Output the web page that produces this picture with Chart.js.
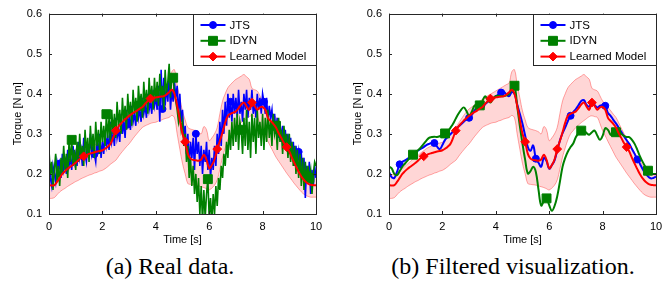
<!DOCTYPE html>
<html>
<head>
<meta charset="utf-8">
<script src="https://cdn.jsdelivr.net/npm/chart.js@4.4.1/dist/chart.umd.min.js"></script>
<style>
  body { margin: 0; width: 671px; height: 290px; background: #fff; position: relative; overflow: hidden; }
  canvas { position: absolute; top: 0; }
  .caption { position: absolute; top: 254px; font-family: "Liberation Serif", "DejaVu Serif", serif; font-size: 24px; line-height: 1; white-space: nowrap; transform: translateX(-50%); color: #000; }
</style>
</head>
<body>
<canvas id="realChart" width="331" height="250" style="left:0px"></canvas>
<canvas id="filtChart" width="331" height="250" style="left:340px"></canvas>
<div class="caption" style="left:170px">(a) Real data.</div>
<div class="caption" style="left:513px">(b) Filtered visualization.</div>
<script>
// time stamps [s] of the raw recording (a)
const timeRaw = [0,0.05,0.1,0.15,0.2,0.25,0.3,0.35,0.4,0.45,0.5,0.55,0.6,0.65,0.7,0.75,0.8,0.85,0.9,0.95,
  1,1.05,1.1,1.15,1.2,1.25,1.3,1.35,1.4,1.45,1.5,1.55,1.6,1.65,1.7,1.75,1.8,1.85,1.9,1.95,
  2,2.05,2.1,2.15,2.2,2.25,2.3,2.35,2.4,2.45,2.5,2.55,2.6,2.65,2.7,2.75,2.8,2.85,2.9,2.95,
  3,3.05,3.1,3.15,3.2,3.25,3.3,3.35,3.4,3.45,3.5,3.55,3.6,3.65,3.7,3.75,3.8,3.85,3.9,3.95,
  4,4.05,4.1,4.15,4.2,4.25,4.3,4.35,4.4,4.45,4.5,4.55,4.6,4.65,4.7,4.75,4.8,4.85,4.9,4.95,
  5,5.05,5.1,5.15,5.2,5.25,5.3,5.35,5.4,5.45,5.5,5.55,5.6,5.65,5.7,5.75,5.8,5.85,5.9,5.95,
  6,6.05,6.1,6.15,6.2,6.25,6.3,6.35,6.4,6.45,6.5,6.55,6.6,6.65,6.7,6.75,6.8,6.85,6.9,6.95,
  7,7.05,7.1,7.15,7.2,7.25,7.3,7.35,7.4,7.45,7.5,7.55,7.6,7.65,7.7,7.75,7.8,7.85,7.9,7.95,
  8,8.05,8.1,8.15,8.2,8.25,8.3,8.35,8.4,8.45,8.5,8.55,8.6,8.65,8.7,8.75,8.8,8.85,8.9,8.95,
  9,9.05,9.1,9.15,9.2,9.25,9.3,9.35,9.4,9.45,9.5,9.55,9.6,9.65,9.7,9.75,9.8,9.85,9.9,9.95,10];

// time stamps [s] of the filtered signals and the model
const time = [0,0.1,0.2,0.3,0.4,0.5,0.6,0.7,0.8,0.9,
  1,1.1,1.2,1.3,1.4,1.5,1.6,1.7,1.8,1.9,
  2,2.1,2.2,2.3,2.4,2.5,2.6,2.7,2.8,2.9,
  3,3.1,3.2,3.3,3.4,3.5,3.6,3.7,3.8,3.9,
  4,4.1,4.2,4.3,4.4,4.5,4.6,4.7,4.8,4.9,
  5,5.1,5.2,5.3,5.4,5.5,5.6,5.7,5.8,5.9,
  6,6.1,6.2,6.3,6.4,6.5,6.6,6.7,6.8,6.9,
  7,7.1,7.2,7.3,7.4,7.5,7.6,7.7,7.8,7.9,
  8,8.1,8.2,8.3,8.4,8.5,8.6,8.7,8.8,8.9,
  9,9.1,9.2,9.3,9.4,9.5,9.6,9.7,9.8,9.9,10];

// raw sensor data (a)
const jtsRaw = [0.24,0.19,0.17,0.22,0.20,0.18,0.23,0.21,0.226,0.19,0.25,0.21,0.23,0.20,0.26,0.22,0.24,0.21,0.27,0.23,
  0.25,0.22,0.28,0.24,0.26,0.22,0.29,0.25,0.23,0.27,0.24,0.30,0.25,0.27,0.249,0.23,0.28,0.25,0.30,0.24,
  0.28,0.25,0.31,0.27,0.29,0.26,0.33,0.28,0.30,0.27,0.34,0.29,0.31,0.28,0.35,0.30,0.33,0.29,0.36,0.323,
  0.34,0.31,0.37,0.33,0.35,0.32,0.38,0.34,0.36,0.33,0.39,0.35,0.37,0.34,0.40,0.36,0.38,0.35,0.41,0.37,
  0.39,0.36,0.42,0.33,0.46,0.362,0.44,0.37,0.42,0.38,0.45,0.36,0.41,0.38,0.43,0.39,0.42,0.35,0.40,0.33,
  0.36,0.29,0.32,0.25,0.30,0.22,0.28,0.24,0.29,0.21,0.30,0.25,0.28,0.22,0.27,0.20,0.26,0.23,0.28,0.21,
  0.26,0.19,0.24,0.21,0.27,0.22,0.30,0.25,0.33,0.27,0.36,0.30,0.38,0.32,0.40,0.34,0.38,0.33,0.40,0.35,
  0.39,0.34,0.41,0.35,0.38,0.33,0.40,0.36,0.41,0.34,0.39,0.36,0.41,0.35,0.38,0.34,0.40,0.36,0.39,0.35,
  0.40,0.38,0.35,0.39,0.33,0.37,0.34,0.36,0.31,0.35,0.30,0.34,0.29,0.33,0.28,0.32,0.27,0.31,0.26,0.30,
  0.25,0.29,0.24,0.28,0.22,0.27,0.23,0.255,0.21,0.25,0.19,0.24,0.14,0.22,0.18,0.23,0.15,0.21,0.17,0.22,0.19];
const idynRaw = [0.26,0.20,0.23,0.16,0.21,0.25,0.18,0.22,0.17,0.24,0.20,0.27,0.21,0.25,0.19,0.28,0.23,0.285,0.22,0.26,
  0.21,0.28,0.23,0.30,0.24,0.27,0.22,0.31,0.25,0.29,0.23,0.32,0.26,0.30,0.24,0.33,0.27,0.31,0.25,0.33,
  0.28,0.32,0.27,0.349,0.29,0.34,0.28,0.36,0.30,0.35,0.29,0.38,0.32,0.36,0.30,0.39,0.33,0.37,0.31,0.40,
  0.34,0.38,0.32,0.41,0.35,0.39,0.33,0.42,0.37,0.40,0.34,0.43,0.37,0.41,0.35,0.44,0.38,0.42,0.36,0.44,
  0.38,0.43,0.37,0.45,0.39,0.42,0.36,0.46,0.40,0.43,0.475,0.39,0.44,0.44,0.40,0.38,0.36,0.33,0.35,0.31,
  0.33,0.27,0.30,0.23,0.27,0.19,0.24,0.17,0.22,0.15,0.20,0.13,0.19,0.10,0.17,0.08,0.16,0.09,0.15,0.187,
  0.09,0.14,0.08,0.15,0.10,0.17,0.12,0.19,0.16,0.22,0.19,0.25,0.22,0.28,0.24,0.31,0.26,0.33,0.27,0.34,
  0.28,0.35,0.26,0.33,0.31,0.25,0.34,0.27,0.36,0.26,0.33,0.24,0.35,0.28,0.34,0.25,0.36,0.29,0.33,0.27,
  0.35,0.26,0.34,0.28,0.36,0.29,0.33,0.27,0.35,0.30,0.32,0.26,0.34,0.28,0.31,0.25,0.32,0.27,0.30,0.24,
  0.30,0.23,0.28,0.22,0.27,0.20,0.26,0.19,0.25,0.17,0.24,0.16,0.23,0.18,0.22,0.19,0.21,0.15,0.20,0.23,0.22];

// filtered data (b)
const jtsFilt = [0.205,0.192,0.190,0.205,0.224,0.230,0.234,0.238,0.242,0.248,
  0.255,0.259,0.263,0.267,0.272,0.275,0.277,0.277,0.268,0.262,
  0.272,0.285,0.292,0.299,0.306,0.312,0.318,0.324,0.330,0.336,
  0.340,0.347,0.358,0.366,0.371,0.364,0.374,0.380,0.386,0.388,
  0.394,0.398,0.403,0.405,0.398,0.394,0.404,0.400,0.374,0.350,
  0.325,0.295,0.267,0.258,0.271,0.238,0.228,0.218,0.240,0.232,
  0.213,0.222,0.234,0.258,0.283,0.302,0.316,0.332,0.345,0.354,
  0.362,0.372,0.382,0.384,0.372,0.368,0.380,0.372,0.366,0.370,
  0.372,0.370,0.352,0.345,0.335,0.326,0.316,0.305,0.294,0.284,
  0.275,0.262,0.250,0.236,0.225,0.212,0.201,0.194,0.189,0.190,0.193];
const idynFilt = [0.218,0.214,0.200,0.197,0.207,0.218,0.226,0.234,0.242,0.248,
  0.254,0.260,0.267,0.275,0.283,0.290,0.292,0.293,0.292,0.294,
  0.298,0.301,0.306,0.315,0.325,0.338,0.350,0.360,0.366,0.357,
  0.345,0.355,0.370,0.372,0.371,0.382,0.394,0.384,0.378,0.388,
  0.394,0.395,0.394,0.394,0.396,0.400,0.412,0.420,0.370,0.320,
  0.275,0.235,0.201,0.207,0.218,0.205,0.160,0.121,0.132,0.139,
  0.122,0.108,0.120,0.144,0.180,0.218,0.240,0.256,0.267,0.276,
  0.292,0.302,0.308,0.308,0.302,0.298,0.304,0.308,0.296,0.285,
  0.295,0.314,0.310,0.298,0.298,0.304,0.306,0.300,0.295,0.292,
  0.292,0.285,0.275,0.260,0.244,0.230,0.218,0.208,0.202,0.200,0.200];

// learned model: mean and confidence band (same in both panels)
const modelMean = [0.172,0.171,0.172,0.180,0.190,0.200,0.207,0.213,0.218,0.223,
  0.228,0.234,0.240,0.244,0.247,0.250,0.252,0.254,0.256,0.257,
  0.259,0.263,0.268,0.275,0.290,0.308,0.318,0.326,0.333,0.339,
  0.345,0.350,0.354,0.358,0.363,0.367,0.375,0.382,0.388,0.390,
  0.391,0.392,0.393,0.394,0.398,0.404,0.410,0.400,0.370,0.335,
  0.300,0.280,0.250,0.238,0.235,0.234,0.233,0.236,0.248,0.235,
  0.214,0.222,0.236,0.262,0.282,0.304,0.328,0.345,0.350,0.353,
  0.356,0.364,0.373,0.378,0.368,0.360,0.378,0.370,0.360,0.366,
  0.367,0.360,0.340,0.332,0.325,0.316,0.302,0.290,0.277,0.267,
  0.256,0.240,0.226,0.212,0.199,0.189,0.181,0.176,0.173,0.172,0.172];
const modelUpper = [0.197,0.198,0.200,0.205,0.209,0.213,0.219,0.225,0.231,0.237,
  0.242,0.247,0.253,0.258,0.263,0.267,0.270,0.273,0.275,0.277,
  0.279,0.284,0.292,0.300,0.308,0.316,0.326,0.336,0.346,0.355,
  0.362,0.367,0.372,0.377,0.382,0.386,0.390,0.395,0.399,0.403,
  0.407,0.411,0.415,0.419,0.423,0.427,0.455,0.460,0.423,0.390,
  0.357,0.335,0.316,0.312,0.310,0.308,0.305,0.300,0.318,0.310,
  0.283,0.290,0.300,0.316,0.350,0.382,0.400,0.415,0.423,0.430,
  0.436,0.440,0.444,0.448,0.442,0.436,0.414,0.410,0.407,0.395,
  0.382,0.374,0.366,0.358,0.349,0.341,0.328,0.314,0.301,0.288,
  0.275,0.264,0.253,0.242,0.232,0.222,0.213,0.206,0.201,0.198,0.197];
const modelLower = [0.139,0.139,0.141,0.148,0.155,0.160,0.164,0.169,0.173,0.177,
  0.181,0.184,0.188,0.191,0.194,0.197,0.199,0.202,0.204,0.207,
  0.209,0.213,0.218,0.224,0.229,0.234,0.243,0.252,0.260,0.268,
  0.275,0.284,0.293,0.301,0.309,0.316,0.320,0.323,0.326,0.328,
  0.329,0.332,0.334,0.337,0.339,0.341,0.346,0.340,0.300,0.262,
  0.226,0.200,0.176,0.174,0.173,0.172,0.170,0.168,0.166,0.163,
  0.160,0.165,0.172,0.185,0.212,0.242,0.265,0.285,0.300,0.308,
  0.316,0.322,0.328,0.333,0.338,0.343,0.345,0.343,0.341,0.326,
  0.308,0.295,0.281,0.268,0.255,0.242,0.232,0.222,0.212,0.202,
  0.193,0.184,0.175,0.167,0.159,0.152,0.147,0.144,0.142,0.142,0.142];

// samples that carry a marker
const jtsRawMarkers = [8, 34, 59, 85, 110, 136, 161, 187];
const idynRawMarkers = [17, 43, 68, 93, 119, 144, 170, 195];
const jtsMarkers = [4, 17, 30, 42, 55, 68, 81, 93];
const idynMarkers = [9, 21, 34, 47, 59, 72, 85, 97];
const modelMarkers = [13, 25, 38, 51, 63, 76, 89];

const xTicks = [0, 2, 4, 6, 8, 10];
const yTicks = [0.1, 0.2, 0.3, 0.4, 0.5, 0.6];

const FONT = '"Liberation Sans", Arial, Helvetica, sans-serif';
const BLUE = '#0000ff', GREEN = '#008000', RED = '#ff0000';

function pts(values, t) {
  return values.map((v, i) => ({ x: t[i], y: v }));
}

function markerRadius(ctx) {
  const ds = ctx.dataset;
  return ds.markers && ds.markers.includes(ctx.dataIndex) ? ds.markerSize : 0;
}

function drawMarker(ctx, style, r, x, y, color) {
  ctx.save();
  ctx.fillStyle = color;
  ctx.strokeStyle = color;
  ctx.lineWidth = 1;
  ctx.beginPath();
  if (style === 'circle') {
    ctx.arc(x, y, r, 0, Math.PI * 2);
  } else if (style === 'rect') {
    const s = r * Math.SQRT1_2;
    ctx.rect(x - s, y - s, 2 * s, 2 * s);
  } else {
    ctx.moveTo(x, y - r); ctx.lineTo(x + r, y); ctx.lineTo(x, y + r); ctx.lineTo(x - r, y);
    ctx.closePath();
  }
  ctx.fill();
  ctx.stroke();
  ctx.restore();
}

// box, inward ticks and matlab-like legend
const framePlugin = {
  id: 'frame',
  afterDraw(chart) {
    const { ctx, chartArea: a, scales } = chart;
    ctx.save();
    ctx.strokeStyle = '#262626';
    ctx.lineWidth = 1;
    ctx.beginPath();
    xTicks.forEach(t => {
      const px = Math.round(scales.x.getPixelForValue(t)) + 0.5;
      ctx.moveTo(px, a.bottom); ctx.lineTo(px, a.bottom - 3);
      ctx.moveTo(px, a.top); ctx.lineTo(px, a.top + 3);
    });
    yTicks.forEach(t => {
      const py = Math.round(scales.y.getPixelForValue(t)) + 0.5;
      ctx.moveTo(a.left, py); ctx.lineTo(a.left + 3, py);
      ctx.moveTo(a.right, py); ctx.lineTo(a.right - 3, py);
    });
    ctx.stroke();
    ctx.strokeRect(Math.round(a.left) + 0.5, Math.round(a.top) + 0.5,
      Math.round(a.right - a.left), Math.round(a.bottom - a.top));

    // legend
    const entries = chart.data.datasets.filter(d => d.label);
    const w = 123, h = 51;
    const x0 = Math.round(a.right - w) + 0.5, y0 = Math.round(a.top) + 0.5;
    ctx.fillStyle = '#fff';
    ctx.fillRect(x0, y0, w, h);
    ctx.strokeStyle = '#262626';
    ctx.strokeRect(x0, y0, w, h);
    ctx.font = '11.5px ' + FONT;
    ctx.textBaseline = 'middle';
    entries.forEach((d, i) => {
      const yy = y0 + 10.5 + i * 15.8;
      ctx.strokeStyle = d.borderColor;
      ctx.lineWidth = 2;
      ctx.beginPath();
      ctx.moveTo(x0 + 7, yy); ctx.lineTo(x0 + 32, yy);
      ctx.stroke();
      drawMarker(ctx, d.pointStyle, d.markerSize, x0 + 19.5, yy, d.borderColor);
      ctx.fillStyle = '#000';
      ctx.fillText(d.label, x0 + 36, yy + 0.5);
    });
    ctx.restore();
  }
};

function makeChart(id, tSig, jts, jtsMk, idyn, idynMk, lw) {
  const line = (label, t, values, color, style, markers, size, order, tension, width) => ({
    label: label,
    data: pts(values, t),
    borderColor: color,
    backgroundColor: color,
    borderWidth: width,
    pointStyle: style,
    pointBackgroundColor: color,
    pointBorderColor: color,
    pointBorderWidth: 1,
    markers: markers,
    markerSize: size,
    pointRadius: markerRadius,
    tension: tension,
    fill: false,
    order: order,
    clip: 0
  });
  return new Chart(document.getElementById(id), {
    type: 'line',
    data: {
      datasets: [
        line('JTS', tSig, jts, BLUE, 'circle', jtsMk, 3.5, 2, lw.tension, lw.data),
        line('IDYN', tSig, idyn, GREEN, 'rect', idynMk, 6.3, 1, lw.tension, lw.data),
        line('Learned Model', time, modelMean, RED, 'rectRot', modelMarkers, 4.4, 0, 0.4, 2),
        { label: '', data: pts(modelUpper, time), borderColor: 'rgba(255,0,0,0.35)', borderWidth: 1,
          pointRadius: 0, tension: 0.4, fill: false, order: 3, clip: 0 },
        { label: '', data: pts(modelLower, time), borderColor: 'rgba(255,0,0,0.35)', borderWidth: 1,
          backgroundColor: 'rgba(255,0,0,0.16)', pointRadius: 0, tension: 0.4, fill: '-1', order: 3, clip: 0 }
      ]
    },
    options: {
      responsive: false,
      animation: false,
      events: [],
      layout: { padding: { left: 0, right: 15, top: 12, bottom: 0 } },
      plugins: { legend: { display: false }, tooltip: { enabled: false } },
      scales: {
        x: {
          type: 'linear', min: 0, max: 10,
          afterBuildTicks: s => { s.ticks = xTicks.map(v => ({ value: v })); },
          afterFit: s => { s.height = 36; },
          grid: { display: false, drawTicks: false },
          border: { display: false },
          ticks: { color: '#000', padding: 6, font: { family: FONT, size: 11 }, maxRotation: 0 },
          title: { display: true, text: 'Time [s]', color: '#000', font: { family: FONT, size: 11 },
            padding: { top: 0, bottom: 3 } }
        },
        y: {
          type: 'linear', min: 0.1, max: 0.6,
          afterBuildTicks: s => { s.ticks = yTicks.map(v => ({ value: v })); },
          afterFit: s => { s.width = 49; },
          grid: { display: false, drawTicks: false },
          border: { display: false },
          ticks: { color: '#000', padding: 7, font: { family: FONT, size: 11 },
            callback: v => v.toFixed(1) },
          title: { display: true, text: 'Torque [N m]', color: '#000', font: { family: FONT, size: 11 },
            padding: { top: 11, bottom: 0 } }
        }
      }
    },
    plugins: [framePlugin]
  });
}

makeChart('realChart', timeRaw, jtsRaw, jtsRawMarkers, idynRaw, idynRawMarkers, { data: 1.6, tension: 0 });
makeChart('filtChart', time, jtsFilt, jtsMarkers, idynFilt, idynMarkers, { data: 2, tension: 0.4 });
</script>
</body>
</html>
